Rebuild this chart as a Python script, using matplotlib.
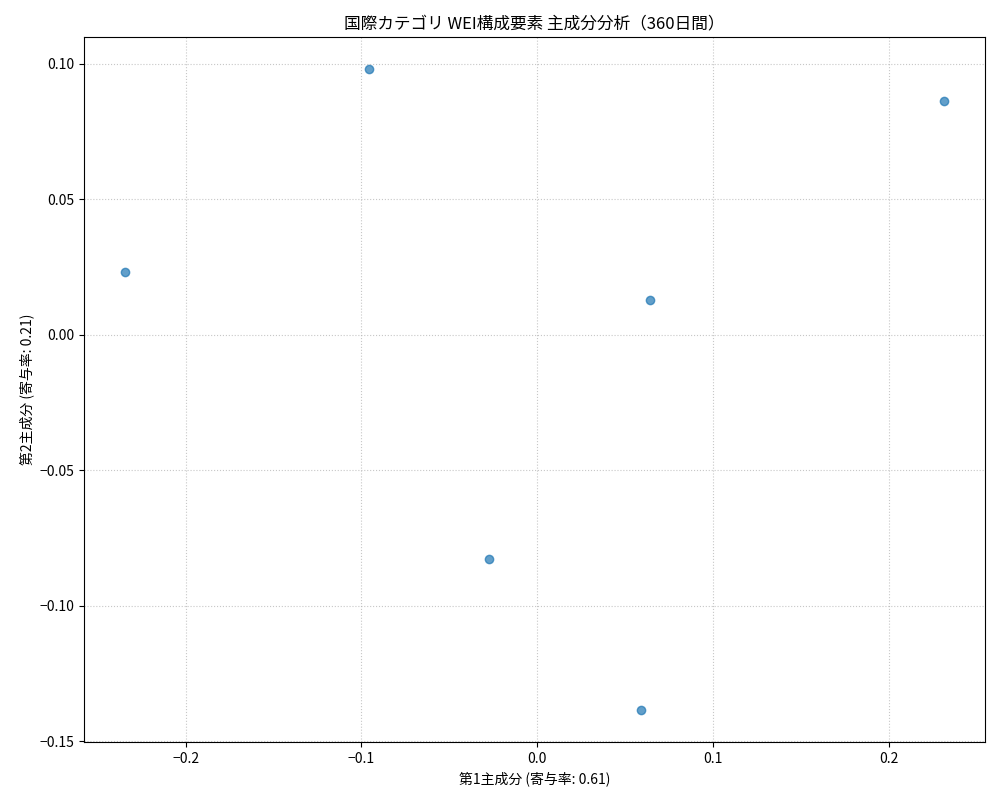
import matplotlib
matplotlib.use('Agg')
import matplotlib.pyplot as plt
import numpy as np

plt.rcParams['font.family'] = ['Noto Sans CJK JP', 'DejaVu Sans']

# PCA scores
pc1 = np.array([-0.2345, -0.0956, 0.2316, 0.0643, -0.0273, 0.0592])
pc2 = np.array([0.0233, 0.0982, 0.0863, 0.0129, -0.0827, -0.1384])

title = '国際カテゴリ WEI構成要素 主成分分析（360日間）'
xlabel = '第1主成分 (寄与率: 0.61)'
ylabel = '第2主成分 (寄与率: 0.21)'

fig, ax = plt.subplots(figsize=(10, 8), dpi=100)
ax.scatter(pc1, pc2, alpha=0.7)
ax.set_title(title)
ax.set_xlabel(xlabel)
ax.set_ylabel(ylabel)
ax.grid(True, linestyle=':', alpha=0.7)
plt.subplots_adjust(left=0.084, right=0.985, top=0.954, bottom=0.0725)
plt.savefig('out.png', dpi=100)
plt.close()
